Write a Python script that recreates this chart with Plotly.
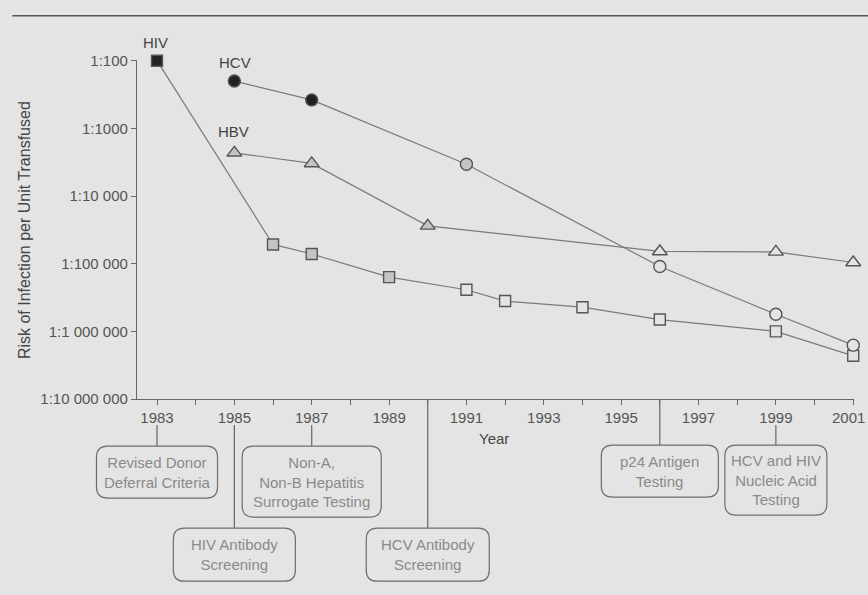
import plotly.graph_objects as go

# ---------------- data ----------------
hiv_years = [1983, 1986, 1987, 1989, 1991, 1992, 1994, 1996, 1999, 2001]
hiv_denom = [100, 52000, 72000, 158000, 243000, 357000, 440000, 670000, 1000000, 2300000]

hcv_years = [1985, 1987, 1991, 1996, 1999, 2001]
hcv_denom = [200, 380, 3400, 110000, 560000, 1600000]

hbv_years = [1985, 1987, 1990, 1996, 1999, 2001]
hbv_denom = [2300, 3300, 27600, 66000, 67000, 96000]

y_tick_vals = [1e-2, 1e-3, 1e-4, 1e-5, 1e-6, 1e-7]
y_tick_text = ["1:100", "1:1000", "1:10 000", "1:100 000", "1:1 000 000", "1:10 000 000"]

x_tick_years = list(range(1983, 2002))
x_tick_text = [str(y) if y % 2 == 1 else "" for y in x_tick_years]

event_years = [1983, 1985, 1987, 1990, 1996, 1999]
event_labels = [
    "Revised Donor<br>Deferral Criteria",
    "HIV Antibody<br>Screening",
    "Non-A,<br>Non-B Hepatitis<br>Surrogate Testing",
    "HCV Antibody<br>Screening",
    "p24 Antigen<br>Testing",
    "HCV and HIV<br>Nucleic Acid<br>Testing",
]

# ---------------- style ----------------
BG = "#e4e4e4"
LINE = "#7a7a7a"
EDGE = "#555555"
BLACK = "#222222"
GRAY = "#c4c4c4"
TICK_TXT = "#555555"
BOX_TXT = "#8a8a8a"
FONT = "Liberation Sans, Arial, sans-serif"

hiv_fill = [BLACK, GRAY, GRAY, GRAY, BG, BG, BG, BG, BG, BG]
hcv_fill = [BLACK, BLACK, GRAY, BG, BG, BG]
hbv_fill = [GRAY, GRAY, GRAY, BG, BG, BG]

# the last tick label sits at the page edge: it is drawn as a right-aligned
# annotation at the same tick so that it stays inside the page
x_tick_text_drawn = x_tick_text[:-1] + [""]

W, H = 868, 595
DEC = 67.6          # pixels per decade
YEAR = 38.67        # pixels per year
Y_TOP_PIX = 61      # pixel of 1:100
AXIS_Y = 399        # pixel of 1:10 000 000
X_LEFT_PIX = 136.7  # y axis pixel
X1983 = 156.7

y_range = [-7, -1.99]
x_range = [1983 - (X1983 - X_LEFT_PIX) / YEAR, 2001.02]

L = X_LEFT_PIX
T = Y_TOP_PIX - (y_range[1] + 2) * DEC
PW = (x_range[1] - x_range[0]) * YEAR
PH = AXIS_Y - T
R = W - L - PW
B = H - AXIS_Y


def pxx(x):
    return (x - L) / PW


def pxy(y):
    return (AXIS_Y - y) / PH


def year_px(yr):
    return L + (yr - x_range[0]) * YEAR


# box geometry (pixels)
box_w = [121, 122, 139, 123, 117, 102]
box_top = [446, 528, 446, 528, 445, 445]
box_h = [52, 53, 71, 53, 52, 70]
conn_start = [425, 425, 425, 399, 399, 425]

fig = go.Figure()


def add_series(xs, denoms, fills, symbol, size):
    fig.add_trace(go.Scatter(
        x=xs, y=[1.0 / d for d in denoms], mode="lines+markers",
        line=dict(color=LINE, width=1.2),
        marker=dict(symbol=symbol, size=size, color=fills,
                    line=dict(color=EDGE, width=1.4)),
        cliponaxis=False, showlegend=False, hoverinfo="x+y",
    ))


add_series(hiv_years, hiv_denom, hiv_fill, "square", 11)
add_series(hcv_years, hcv_denom, hcv_fill, "circle", 12)
add_series(hbv_years, hbv_denom, hbv_fill, "triangle-up", 13)

shapes = []
annotations = []

# top rule
shapes.append(dict(type="line", xref="paper", yref="paper",
                   x0=pxx(12), x1=pxx(868), y0=pxy(16), y1=pxy(16),
                   line=dict(color="#555555", width=1.5)))


def rounded_rect(x0, y0, x1, y1, r):
    def p(x, y):
        return f"{pxx(x):.5f},{pxy(y):.5f}"
    return (f"M {p(x0 + r, y0)} L {p(x1 - r, y0)} Q {p(x1, y0)} {p(x1, y0 + r)} "
            f"L {p(x1, y1 - r)} Q {p(x1, y1)} {p(x1 - r, y1)} "
            f"L {p(x0 + r, y1)} Q {p(x0, y1)} {p(x0, y1 - r)} "
            f"L {p(x0, y0 + r)} Q {p(x0, y0)} {p(x0 + r, y0)} Z")


for yr, lab, bw, bt, bh, cs in zip(event_years, event_labels, box_w, box_top, box_h, conn_start):
    cx = year_px(yr)
    shapes.append(dict(type="line", xref="x", yref="paper",
                       x0=yr, x1=yr, y0=pxy(cs), y1=pxy(bt),
                       line=dict(color="#666666", width=1.2)))
    shapes.append(dict(type="path", xref="paper", yref="paper",
                       path=rounded_rect(cx - bw / 2, bt, cx + bw / 2, bt + bh, 11),
                       line=dict(color="#6e6e6e", width=1.2), fillcolor="rgba(0,0,0,0)"))
    annotations.append(dict(xref="paper", yref="paper", x=pxx(cx), y=pxy(bt + bh / 2),
                            text=lab, showarrow=False, xanchor="center", yanchor="middle",
                            font=dict(family=FONT, size=15, color=BOX_TXT)))

# last x tick label
annotations.append(dict(xref="x", yref="paper", x=x_tick_years[-1], y=pxy(417),
                        text=x_tick_text[-1], showarrow=False, xanchor="right",
                        yanchor="middle", xshift=14,
                        font=dict(family=FONT, size=15, color=TICK_TXT)))

# series labels
for txt, x, y in [("HIV", 155, 43), ("HCV", 235, 63), ("HBV", 233, 132)]:
    annotations.append(dict(xref="paper", yref="paper", x=pxx(x), y=pxy(y), text=txt,
                            showarrow=False, xanchor="center", yanchor="middle",
                            font=dict(family=FONT, size=15, color="#444444")))

# axis titles
annotations.append(dict(xref="paper", yref="paper", x=pxx(494), y=pxy(438), text="Year",
                        showarrow=False, xanchor="center", yanchor="middle",
                        font=dict(family=FONT, size=15, color="#444444")))
annotations.append(dict(xref="paper", yref="paper", x=pxx(25), y=pxy(230),
                        text="Risk of Infection per Unit Transfused", textangle=-90,
                        showarrow=False, xanchor="center", yanchor="middle",
                        font=dict(family=FONT, size=16, color="#444444")))

fig.update_layout(
    width=W, height=H,
    margin=dict(l=L, r=R, t=T, b=B, pad=0, autoexpand=False),
    paper_bgcolor=BG, plot_bgcolor=BG,
    shapes=shapes, annotations=annotations,
    xaxis=dict(range=x_range, tickmode="array", tickvals=x_tick_years, ticktext=x_tick_text_drawn,
               showgrid=False, zeroline=False, showline=True, linecolor="#666666", linewidth=1.2,
               ticks="outside", ticklen=5, tickcolor="#666666",
               automargin=False,
               tickfont=dict(family=FONT, size=15, color=TICK_TXT)),
    yaxis=dict(type="log", range=y_range, tickmode="array", tickvals=y_tick_vals,
               ticktext=y_tick_text, showgrid=False, zeroline=False, showline=True,
               linecolor="#666666", linewidth=1.2, ticks="outside", ticklen=5,
               tickcolor="#666666", automargin=False,
               tickfont=dict(family=FONT, size=15, color=TICK_TXT)),
)

fig.write_html("out.html", config={"displayModeBar": False},
               post_script="document.body.style.margin='0';document.body.style.background='" + BG + "';")
